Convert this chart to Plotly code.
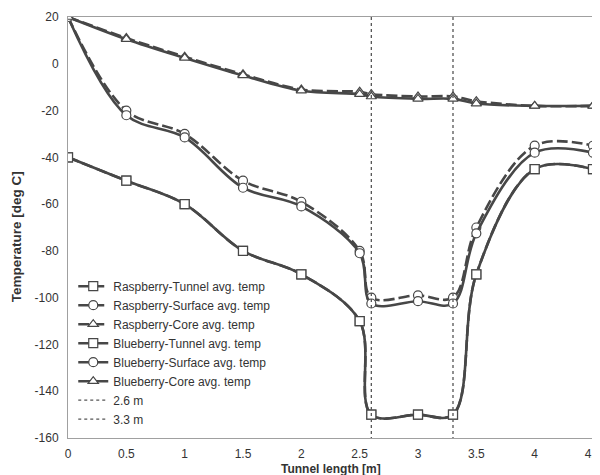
import plotly.graph_objects as go

x = [0, 0.5, 1, 1.5, 2, 2.5, 2.6, 3.0, 3.3, 3.5, 4.0, 4.5]

rasp_tunnel = [-40, -50, -60, -80, -90, -110, -150, -150, -150, -90, -45, -45]
rasp_surface = [20, -20, -30, -50, -59, -80, -100, -99, -100, -70, -35, -35]
rasp_core = [20, 11, 3, -4.5, -11, -12, -13, -14, -14, -16, -18, -18]

blue_tunnel = [-40, -50, -60, -80, -90, -110, -150, -150, -150, -90, -45, -45]
blue_surface = [20, -22, -31.5, -53, -61, -81, -102.5, -101.5, -102.5, -72.5, -38, -38]
blue_core = [20, 10.5, 2.5, -5, -11.5, -13, -14, -15, -15, -17, -18, -18]

vlines = [2.6, 3.3]
vline_names = ["2.6 m", "3.3 m"]
y_span = [20, -160]

y_ticks = [-160, -140, -120, -100, -80, -60, -40, -20, 0, 20]
y_tick_text = ["-160", "-140", "-120", "-100", "-80", "-60", "-40", "-20", "0", "20"]
x_ticks = [0, 0.5, 1, 1.5, 2, 2.5, 3, 3.5, 4, 4.5]
x_tick_text = ["0", "0.5", "1", "1.5", "2", "2.5", "3", "3.5", "4", "4.5"]

series = [
    ("Raspberry-Tunnel avg. temp", rasp_tunnel, "square", "11px,4px"),
    ("Raspberry-Surface avg. temp", rasp_surface, "circle", "11px,4px"),
    ("Raspberry-Core avg. temp", rasp_core, "triangle-up", "11px,4px"),
    ("Blueberry-Tunnel avg. temp", blue_tunnel, "square", "solid"),
    ("Blueberry-Surface avg. temp", blue_surface, "circle", "solid"),
    ("Blueberry-Core avg. temp", blue_core, "triangle-up", "solid"),
]

font_fam = "Liberation Sans, Arial, sans-serif"
line_col = "#474747"
fig = go.Figure()
for name, ys, sym, dash in series:
    fig.add_trace(go.Scatter(
        x=x, y=ys, name=name, mode="lines+markers",
        line=dict(color=line_col, width=2.6, dash=dash, shape="spline", smoothing=1.0),
        marker=dict(symbol=sym, size=9, color="white",
                    line=dict(color=line_col, width=1.2)),
    ))

for xv, nm in zip(vlines, vline_names):
    fig.add_trace(go.Scatter(
        x=[xv, xv], y=y_span, name=nm, mode="lines",
        line=dict(color="#555555", width=1.3, dash="dot"),
    ))

axis_common = dict(
    showgrid=False, zeroline=False, showline=True, linecolor="#a0a0a0",
    linewidth=1, mirror=True, ticks="", ticklabeloverflow="allow",
    automargin=False,
    tickfont=dict(family=font_fam, size=12, color="#333"),
)

fig.update_layout(
    width=592, height=467,
    margin=dict(l=60, r=7, t=9, b=37),
    paper_bgcolor="white", plot_bgcolor="white",
    font=dict(family=font_fam, color="#333"),
    xaxis=dict(range=[0, 4.5], tickvals=x_ticks, ticktext=x_tick_text,
               ticklabelstandoff=5, **axis_common),
    yaxis=dict(range=[-160, 20], tickvals=y_ticks, ticktext=y_tick_text,
               ticklabelstandoff=6, **axis_common),
    legend=dict(x=0.01, y=0.395, xanchor="left", yanchor="top",
                bgcolor="rgba(0,0,0,0)", borderwidth=0,
                font=dict(size=12, color="#333"), tracegroupgap=0),
    showlegend=True,
    annotations=[
        dict(text="<b>Tunnel length [m]</b>", xref="paper", yref="paper",
             x=0.5, y=-0.0745, xanchor="center", yanchor="middle", showarrow=False,
             font=dict(size=12, family=font_fam, color="#333")),
        dict(text="<b>Temperature [deg C]</b>", xref="paper", yref="paper",
             x=-0.098, y=0.478, xanchor="center", yanchor="middle", showarrow=False,
             textangle=-90, font=dict(size=13.5, family=font_fam, color="#333")),
    ],
)

fig.write_html("out.html")
